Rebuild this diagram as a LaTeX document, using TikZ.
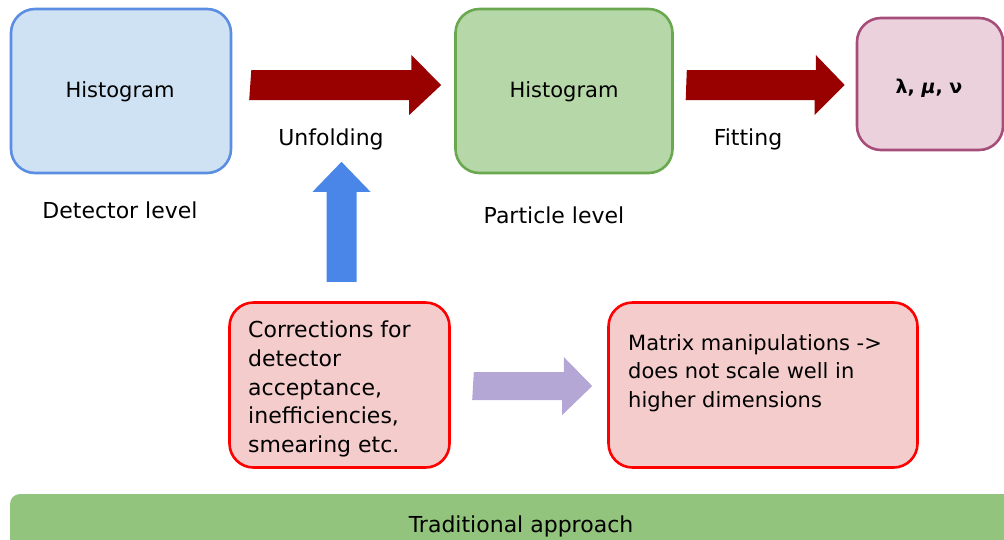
\documentclass[tikz,border=0pt]{standalone}
\usepackage{fontspec}
\setmainfont{DejaVu Sans}
\usetikzlibrary{calc}
\definecolor{bluebd}{HTML}{5B8DE3}
\definecolor{bluefl}{HTML}{CFE2F3}
\definecolor{greenbd}{HTML}{6AA84F}
\definecolor{greenfl}{HTML}{B6D7A8}
\definecolor{pinkbd}{HTML}{A64D79}
\definecolor{pinkfl}{HTML}{EAD1DC}
\definecolor{redbd}{HTML}{FF0000}
\definecolor{redfl}{HTML}{F4CCCC}
\definecolor{darkred}{HTML}{990000}
\definecolor{bluearr}{HTML}{4A86E8}
\definecolor{purplearr}{HTML}{B4A7D6}
\definecolor{barfl}{HTML}{93C47D}
\tikzset{
  box/.style={draw, line width=2.6pt, rounded corners=24pt, inner sep=0pt},
  lbl/.style={font=\fontsize{22}{26}\selectfont, inner sep=0pt},
  body/.style={font=\fontsize{22}{28.6}\selectfont, align=left, inner sep=0pt, anchor=north west},
}
\begin{document}
\begin{tikzpicture}[x=1pt,y=-1pt]
\useasboundingbox (0,0) rectangle (1004,539);
\clip (0,0) rectangle (1004,539);
% boxes
\node[box, draw=bluebd, fill=bluefl, minimum width=220pt, minimum height=164pt] (det) at (121,91) {};
\node[lbl, font=\fontsize{21}{24}\selectfont] (dettxt) at (120,92) {Histogram};
\node[box, draw=greenbd, fill=greenfl, minimum width=217pt, minimum height=164pt] (part) at (564,91) {};
\node[lbl, font=\fontsize{21}{24}\selectfont] (parttxt) at (564,92) {Histogram};
\node[box, draw=pinkbd, fill=pinkfl, minimum width=146pt, minimum height=132pt] (res) at (930,84) {};
\node[lbl, font=\bfseries\fontsize{19}{24}\selectfont] (restxt) at (929,88) {λ, \textit{μ}, ν};
\node[box, draw=redbd, fill=redfl, minimum width=220pt, minimum height=165pt] (corr) at (339.5,385) {};
\node[body] (corrtxt) at (248,321) {Corrections for\\detector\\acceptance,\\inefficiencies,\\smearing etc.};
\node[box, draw=redbd, fill=redfl, minimum width=309pt, minimum height=165pt] (mat) at (763,385) {};
\node[body, font=\fontsize{21}{28.6}\selectfont] (mattxt) at (628,334) {Matrix manipulations ->\\does not scale well in\\higher dimensions};
% labels
\node[lbl] (detl) at (120,210) {Detector level};
\node[lbl] (partl) at (554,215) {Particle level};
\node[lbl] (unf) at (331,139) {Unfolding};
\node[lbl] (fit) at (748,139) {Fitting};
% fat arrows
\coordinate (a1s) at ($(det.east)+(19,-6)$);
\coordinate (a1e) at ($(part.west)+(-13,-6)$);
\fill[darkred] (a1s) ++(0,-15) -- ++(160,0) -- ++(0,-15) -- (a1e) -- ++(-32,30) -- ++(0,-15) -- ++(-160,0) -- cycle;
\coordinate (a2s) at ($(part.east)+(13,-6)$);
\coordinate (a2e) at ($(res.west)+(-11,1)$);
\fill[darkred] (a2s) ++(0,-15) -- ++(129,0) -- ++(0,-15) -- (a2e) -- ++(-30,30) -- ++(0,-15) -- ++(-129,0) -- cycle;
\coordinate (a3e) at (unf.south -| corr.north);
\coordinate (a3t) at ($(a3e)+(2,12)$);
\fill[bluearr] (a3t) -- ++(29,30) -- ++(-14,0) -- ++(0,90) -- ++(-30,0) -- ++(0,-90) -- ++(-14,0) -- cycle;
\coordinate (a4s) at ($(corr.east)+(23,1)$);
\coordinate (a4e) at ($(mat.west)+(-15,1)$);
\fill[purplearr] (a4s) ++(0,-14) -- ++(90,0) -- ++(0,-15) -- (a4e) -- ++(-30,29) -- ++(0,-15) -- ++(-90,0) -- cycle;
% bottom bar
\node[fill=barfl, rounded corners=10pt, minimum width=1030pt, minimum height=80pt, inner sep=0pt] (bar) at (525,534) {};
\node[lbl] (bartxt) at (521,526) {Traditional approach};
\end{tikzpicture}
\end{document}
